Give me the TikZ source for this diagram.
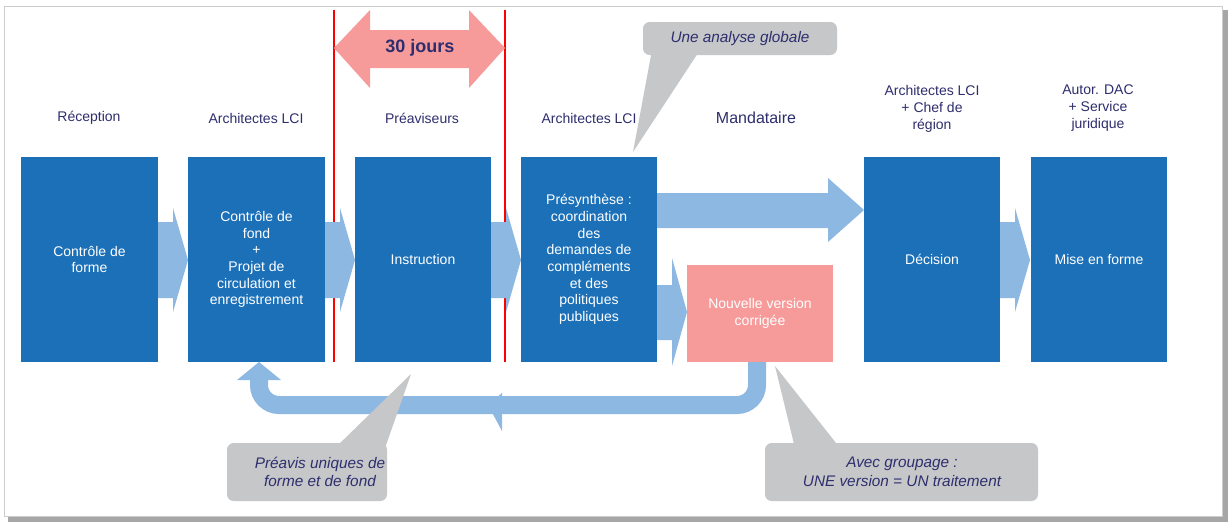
\documentclass[tikz,border=0pt]{standalone}
\usepackage{fontspec}
\setmainfont{Liberation Sans}
\begin{document}
\begin{tikzpicture}[x=0.75pt,y=-0.75pt,
  box/.style={fill=boxb,draw=none},
  lab/.style={text=navy,font=\fontsize{10.5}{12.5}\selectfont,align=center},
  wt/.style={text=white,font=\fontsize{10.5}{12.5}\selectfont,align=center},
  gt/.style={text=navy,font=\fontsize{11.5}{14}\selectfont\itshape,align=center},
  la/.style={fill=lblue,draw=none},
  call/.style={fill=callg,draw=none,rounded corners=5pt}]
\definecolor{boxb}{HTML}{1B70B8}
\definecolor{lblue}{HTML}{8DB8E2}
\definecolor{navy}{HTML}{2E2E6E}
\definecolor{pinkc}{HTML}{F69A9A}
\definecolor{callg}{HTML}{C6C7C9}
\useasboundingbox (0,0) rectangle (1232,526);
% frame
\fill[gray!70] (8,10) rectangle (1228,522);
\fill[white,draw=gray!40] (4,6) rectangle (1222,516);
% red lines
\draw[red,line width=0.8pt] (334,10) -- (334,362);
\draw[red,line width=0.8pt] (505,10) -- (505,362);
% double arrow
\fill[pinkc] (334,48) -- (370,10) -- (370,30) -- (469,30) -- (469,10) -- (505,48) -- (469,88) -- (469,68) -- (370,68) -- (370,88) -- cycle;
\node[text=navy,font=\fontsize{13.5}{16}\selectfont\bfseries] (d30) at (420,48) {30 jours};
% small arrows
\foreach \a in {158,325,491,1000}{
  \fill[lblue] (\a,222) -- (\a+15,222) -- (\a+15,208) -- (\a+30,260) -- (\a+15,312) -- (\a+15,298) -- (\a,298) -- cycle;}
% big arrow top
\fill[lblue] (657,193) -- (828,193) -- (828,178) -- (864,210) -- (828,242) -- (828,228) -- (657,228) -- cycle;
% arrow to pink
\fill[lblue] (657,285) -- (672,285) -- (672,258) -- (687,312) -- (672,366) -- (672,340) -- (657,340) -- cycle;
% boxes
\node[box,minimum width=137*0.75pt,minimum height=205*0.75pt,wt] (b1) at (89.5,259.5) {Contrôle de\\forme};
\node[box,minimum width=137*0.75pt,minimum height=205*0.75pt,wt] (b2) at (256.5,259.5) {Contrôle de\\fond\\+\\Projet de\\circulation et\\enregistrement};
\node[box,minimum width=136*0.75pt,minimum height=205*0.75pt,wt] (b3) at (423,259.5) {Instruction};
\node[box,minimum width=136*0.75pt,minimum height=205*0.75pt,wt] (b4) at (589,259.5) {Présynthèse :\\coordination\\des\\demandes de\\compléments\\et des\\politiques\\publiques};
\node[box,minimum width=136*0.75pt,minimum height=205*0.75pt,wt] (b6) at (932,259.5) {Décision};
\node[box,minimum width=136*0.75pt,minimum height=205*0.75pt,wt] (b7) at (1099,259.5) {Mise en forme};
\node[fill=pinkc,minimum width=146*0.75pt,minimum height=97*0.75pt,wt] (b5) at (760,313.5) {Nouvelle version\\corrigée};
% return arrow
\coordinate (r1) at (757,362);
\coordinate (r2) at (259,378);
\draw[lblue,line width=13.5pt,rounded corners=15pt] (r1) -- (757,405) -- (259,405) -- (r2);
\fill[lblue] (237,380) -- (281,380) -- (259,362) -- cycle;
\fill[lblue] (488,405) -- (502,393) -- (502,431) -- cycle;
% labels
\node[lab] (l1) at (89,118) {Réception};
\node[lab] (l2) at (256,118) {Architectes LCI};
\node[lab] (l3) at (422,118) {Préaviseurs};
\node[lab] (l4) at (589,118) {Architectes LCI};
\node[lab,font=\fontsize{12}{14}\selectfont] (l5) at (756,118) {Mandataire};
\node[lab] (l6) at (932,109) {Architectes LCI\\+ Chef de\\région};
\node[lab] (l7) at (1098,108) {Autor. DAC\\+ Service\\juridique};
% callouts
\fill[callg] (652,50) -- (700,50) -- (633,152) -- cycle;
\fill[call] (643,22) rectangle (837,55);
\node[gt] (c1) at (740,39) {Une analyse globale};
\fill[callg] (335,448) -- (385,448) -- (411,374) -- cycle;
\fill[call] (227,443) rectangle (387,501);
\node[gt] (c2) at (320,472) {Préavis uniques de\\forme et de fond};
\fill[callg] (795,448) -- (840,448) -- (775,366) -- cycle;
\fill[call] (765,443) rectangle (1038,501);
\node[gt] (c3) at (902,472) {Avec groupage :\\UNE version = UN traitement};
\end{tikzpicture}
\end{document}
